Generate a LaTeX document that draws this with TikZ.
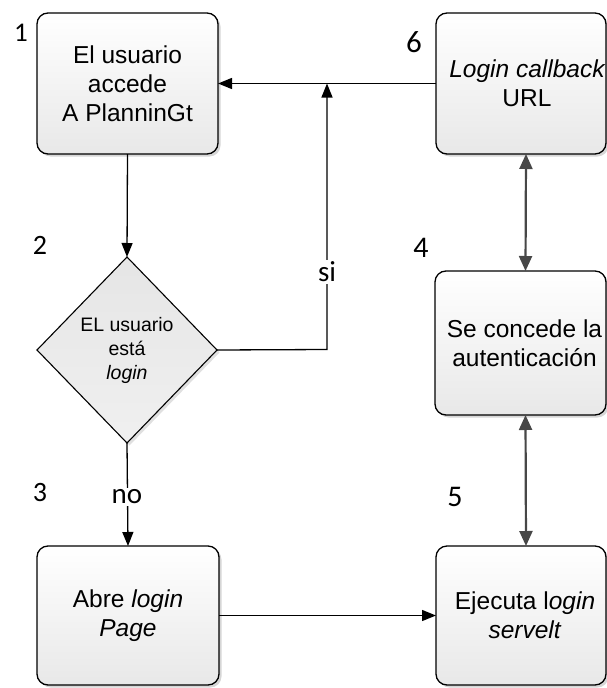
\documentclass[tikz,border=0pt]{standalone}
\usepackage{fontspec}
\setmainfont{Liberation Sans}
\newfontfamily\numfont{Carlito}
\usetikzlibrary{arrows.meta,shapes.geometric,shadows}

\begin{document}
\begin{tikzpicture}[x=1pt,y=-1pt,
  stepbox/.style={draw=black, line width=1.3pt, rounded corners=11pt,
    top color=white, bottom color=black!9,
    minimum height=141pt, inner sep=0pt, outer sep=0pt, align=center,
    font=\fontsize{24.5}{29}\selectfont,
    drop shadow={shadow xshift=2.5pt, shadow yshift=-2.5pt, fill=black, opacity=0.16}},
  decision/.style={diamond, draw=black, line width=1.1pt,
    top color=black!10, bottom color=black!6,
    minimum width=180pt, minimum height=186pt, inner sep=0pt, outer sep=0pt,
    align=center, font=\fontsize{19.5}{24}\selectfont,
    drop shadow={shadow xshift=2.5pt, shadow yshift=-2.5pt, fill=black, opacity=0.12}},
  flow/.style={draw=black, line width=1.3pt, -{Triangle[length=14pt,width=11pt]}},
  duplex/.style={draw=black!72, line width=2.2pt,
    {Triangle[length=15pt,width=13pt]}-{Triangle[length=15pt,width=13pt]}},
  numlbl/.style={font=\numfont\fontsize{30}{32}\selectfont, inner sep=0pt},
  edgelbl/.style={font=\numfont\fontsize{29}{30}\selectfont, fill=white, inner sep=2pt}
]
\useasboundingbox (0,0) rectangle (607,688);
\clip (0,0) rectangle (607,688);

% process steps
\node[stepbox, minimum width=181pt] (b1) at (127.5,83.5) {El usuario\\accede\\A PlanninGt};
\node[stepbox, minimum width=170pt] (b6) at (521,83.5) {\itshape\hspace*{12pt}Login callback\\\hspace*{12pt}URL};
\node[stepbox, minimum width=171pt, minimum height=144pt] (b4) at (520.5,343) {\hspace*{8pt}Se concede la\\\hspace*{8pt}autenticación};
\node[stepbox, minimum width=182pt, minimum height=139pt] (b3) at (128,615.5) {Abre \textit{login}\\\textit{Page}};
\node[stepbox, minimum width=170pt, minimum height=139pt] (b5) at (521,615.5) {\hspace*{8pt}Ejecuta l\textit{ogin}\\\hspace*{8pt}\textit{servelt}};

% decision
\node[decision] (d) at (127,350) {EL usuario\\está\\\textit{login}};

% step numbers
\node[numlbl, font=\numfont\fontsize{27}{30}\selectfont] (n1) at (21,33) {1};
\node[numlbl, font=\numfont\fontsize{28}{30}\selectfont] (n2) at (40,245) {2};
\node[numlbl, font=\numfont\fontsize{28}{30}\selectfont] (n3) at (40,493) {3};
\node[numlbl] (n4) at (421,248) {4};
\node[numlbl] (n5) at (455,497) {5};
\node[numlbl, font=\numfont\fontsize{31}{32}\selectfont] (n6) at (414,42) {6};

% connectors
\coordinate (sicorner) at (327,349.5);
\coordinate (sitop) at (327,83.5);

\draw[flow] (b1.south) -- (d.north);
\draw[flow] (d.east) -- (sicorner) -- (sitop);
\node[edgelbl] (si) at (327,272) {si};
\draw[flow] (b6.west) -- (b1.east);
\draw[flow] (d.south) -- (b3.north);
\node[edgelbl] (no) at (127,497) {no};
\draw[flow] (b3.east) -- (b5.west);
\draw[duplex] ([xshift=5pt]b6.south) -- ([xshift=5pt]b4.north);
\draw[duplex] ([xshift=5pt]b4.south) -- ([xshift=5pt]b5.north);
\end{tikzpicture}
\end{document}
